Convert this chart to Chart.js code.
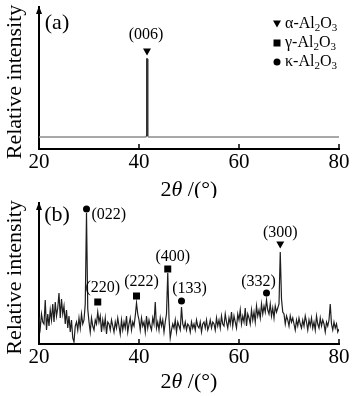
<!DOCTYPE html>
<html>
<head>
    <meta charset="utf-8">
    <title>XRD patterns</title>
    <script src="https://cdn.jsdelivr.net/npm/chart.js"></script>
    <style>
        html, body { margin: 0; padding: 0; background: #fff; }
        .panel { width: 352px; height: 198px; }
    </style>
</head>
<body>
    <div class="panel"><canvas id="chartA" width="352" height="198"></canvas></div>
    <div class="panel"><canvas id="chartB" width="352" height="198"></canvas></div>

    <script>
        // x axis
        const xTicks = [20, 40, 60, 80];

        // panel (a): flat baseline with one sharp alpha-Al2O3 peak
        const angleA = [20, 41.3, 41.45, 41.55, 41.65, 41.75, 41.9, 80];
        const intensityA = [12, 12, 13, 90, 90, 13, 12, 12];

        // panel (b): noisy pattern, sampled every 0.25 deg from 20 to 80
        const angleStartB = 20;
        const angleStepB = 0.25;
        const intensityB = [
            27, 16, 30, 22,   20, 44, 14, 30,   18, 34, 24, 40,   22, 42, 28, 36,   // 20-23
            51, 26, 45, 30,   38, 20, 34, 16,   28, 12, 24, 6,    2, 18, 22, 14,    // 24-27
            26, 16, 30, 20,   24, 40, 131, 35,  22, 12, 26, 18,   14, 24, 20, 32,   // 28-31
            22, 28, 12, 24,   16, 26, 10, 22,   20, 14, 24, 18,   12, 22, 16, 26,   // 32-35
            18, 10, 24, 14,   22, 16, 28, 12,   20, 26, 14, 22,   18, 28, 41, 30,   // 36-39
            24, 14, 26, 18,   22, 12, 28, 16,   24, 18, 14, 26,   20, 42, 16, 22,   // 40-43
            14, 26, 18, 24,   12, 22, 30, 71,   26, 6, 14, 20,    16, 24, 12, 22,   // 44-47
            18, 14, 37, 20,   16, 22, 14, 20,   18, 12, 22, 16,   20, 14, 24, 18,   // 48-51
            16, 22, 12, 20,   22, 16, 24, 14,   18, 24, 16, 22,   20, 14, 26, 18,   // 52-55
            24, 16, 28, 20,   18, 30, 22, 16,   26, 20, 32, 18,   28, 22, 16, 30,   // 56-59
            24, 34, 20, 28,   22, 36, 18, 30,   26, 20, 34, 24,   32, 22, 38, 28,   // 60-63
            34, 26, 40, 30,   38, 32, 44, 34,   30, 40, 28, 36,   26, 38, 32, 36,   // 64-67
            40, 92, 45, 32,   30, 20, 28, 24,   18, 28, 22, 26,   20, 14, 24, 18,   // 68-71
            26, 20, 16, 24,   18, 28, 22, 14,   24, 18, 26, 16,   22, 14, 28, 20,   // 72-75
            16, 26, 18, 24,   20, 12, 22, 18,   24, 40, 20, 14,   22, 16, 20, 12,   // 76-79
            15                                                                      // 80
        ];

        // peak assignments
        const phaseKeys = ['alpha', 'gamma', 'kappa'];
        const phaseNames = [['α-Al', '2', 'O', '3'], ['γ-Al', '2', 'O', '3'], ['κ-Al', '2', 'O', '3']];
        const peakAngleA = [41.6];
        const peakHklA = ['(006)'];
        const peakPhaseA = ['alpha'];
        const peakAngleB = [29.5, 31.75, 39.5, 45.75, 48.5, 65.5, 68.25];
        const peakHklB = ['(022)', '(220)', '(222)', '(400)', '(133)', '(332)', '(300)'];
        const peakPhaseB = ['kappa', 'gamma', 'gamma', 'gamma', 'kappa', 'kappa', 'alpha'];

        const SERIF = '"Liberation Serif", "Times New Roman", serif';

        function drawMarker(ctx, shape, x, y) {
            ctx.fillStyle = '#000';
            ctx.beginPath();
            if (shape === 'alpha') {
                ctx.moveTo(x - 4, y - 3.5);
                ctx.lineTo(x + 4, y - 3.5);
                ctx.lineTo(x, y + 3.5);
                ctx.closePath();
            } else if (shape === 'gamma') {
                ctx.rect(x - 3.5, y - 3.5, 7, 7);
            } else {
                ctx.arc(x, y, 3.5, 0, Math.PI * 2);
            }
            ctx.fill();
        }

        // alternating runs: normal, subscript, normal, subscript
        function drawFormula(ctx, parts, x, y, size) {
            let cx = x;
            parts.forEach((p, i) => {
                const sub = i % 2 === 1;
                ctx.font = (sub ? Math.round(size * 0.68) : size) + 'px ' + SERIF;
                ctx.fillText(p, cx, sub ? y + 4 : y);
                cx += ctx.measureText(p).width;
            });
        }

        function peakTop(angles, values, a) {
            let best = 0;
            angles.forEach((x, i) => {
                if (Math.abs(x - a) <= 0.3 && values[i] > best) best = values[i];
            });
            return best;
        }

        function decorations(panel) {
            return {
                id: 'decor' + panel.letter,
                afterDraw(chart) {
                    const ctx = chart.ctx;
                    const area = chart.chartArea;
                    const xs = chart.scales.x;
                    const ys = chart.scales.y;
                    ctx.save();
                    ctx.fillStyle = '#000';
                    ctx.strokeStyle = '#000';

                    // arrow head on y axis
                    ctx.beginPath();
                    ctx.moveTo(area.left - 3, area.top + 7);
                    ctx.lineTo(area.left, area.top - 1);
                    ctx.lineTo(area.left + 3, area.top + 7);
                    ctx.closePath();
                    ctx.fill();

                    // inward tick marks
                    ctx.lineWidth = 1.5;
                    xTicks.slice(1).forEach(v => {
                        const px = xs.getPixelForValue(v);
                        ctx.beginPath();
                        ctx.moveTo(px, area.bottom);
                        ctx.lineTo(px, area.bottom - 5);
                        ctx.stroke();
                    });

                    // x title 2θ /(°)
                    const size = 22;
                    const runs = [['2', ''], ['θ', 'italic '], [' /(°)', '']];
                    let total = 0;
                    runs.forEach(r => { ctx.font = r[1] + size + 'px ' + SERIF; total += ctx.measureText(r[0]).width; });
                    let tx = (area.left + area.right) / 2 - total / 2;
                    ctx.textBaseline = 'middle';
                    ctx.textAlign = 'left';
                    runs.forEach(r => {
                        ctx.font = r[1] + size + 'px ' + SERIF;
                        ctx.fillText(r[0], tx, area.bottom + panel.xTitleOffset);
                        tx += ctx.measureText(r[0]).width;
                    });

                    // y title
                    ctx.save();
                    ctx.translate(15, (area.top + area.bottom) / 2 + 4);
                    ctx.rotate(-Math.PI / 2);
                    ctx.textAlign = 'center';
                    ctx.font = size + 'px ' + SERIF;
                    ctx.fillText('Relative intensity', 0, 0);
                    ctx.restore();

                    // panel letter
                    ctx.textAlign = 'center';
                    ctx.font = '22px ' + SERIF;
                    ctx.fillText('(' + panel.letter + ')', area.left + 18, area.top + panel.letterDy);

                    // peak markers and hkl labels
                    ctx.font = '16px ' + SERIF;
                    panel.angles.forEach((a, i) => {
                        const px = xs.getPixelForValue(a);
                        const py = ys.getPixelForValue(peakTop(panel.dataX, panel.dataY, a)) - panel.gap[i];
                        drawMarker(ctx, panel.phases[i], px, py);
                        ctx.textAlign = panel.align[i];
                        ctx.fillText(panel.hkl[i], px + panel.dx[i], py + panel.dy[i]);
                    });

                    // legend
                    if (panel.legend) {
                        phaseKeys.forEach((k, i) => {
                            const ly = area.top + 17 + i * 19;
                            drawMarker(ctx, k, area.right - 62, ly);
                            ctx.textAlign = 'left';
                            drawFormula(ctx, phaseNames[i], area.right - 54, ly, 16);
                        });
                    }
                    ctx.restore();
                }
            };
        }

        function makeOptions(yMax, padTop, xHeight) {
            return {
                responsive: false,
                animation: false,
                devicePixelRatio: 1,
                layout: { padding: { left: 0, right: 13, top: padTop, bottom: 0 } },
                plugins: { legend: { display: false }, tooltip: { enabled: false } },
                scales: {
                    x: {
                        type: 'linear',
                        min: 20,
                        max: 80,
                        afterBuildTicks: s => { s.ticks = xTicks.map(v => ({ value: v })); },
                        afterFit: s => { s.height = xHeight; },
                        grid: { display: false, drawTicks: false },
                        border: { display: true, color: '#000', width: 2 },
                        ticks: { color: '#000', padding: 1, maxRotation: 0, font: { family: SERIF, size: 21 } }
                    },
                    y: {
                        min: 0,
                        max: yMax,
                        afterFit: s => { s.width = 39; },
                        grid: { display: false, drawTicks: false },
                        border: { display: true, color: '#000', width: 2 },
                        ticks: { display: false }
                    }
                }
            };
        }

        const angleB = intensityB.map((_, i) => angleStartB + i * angleStepB);

        new Chart(document.getElementById('chartA'), {
            type: 'line',
            data: {
                datasets: [{
                    data: angleA.map((x, i) => ({ x: x, y: intensityA[i] })),
                    borderWidth: 1.5,
                    borderColor: '#8c8c8c',
                    segment: { borderColor: c => (c.p0.parsed.y > 20 || c.p1.parsed.y > 20) ? '#333' : '#8c8c8c' },
                    pointRadius: 0,
                    tension: 0
                }]
            },
            options: makeOptions(142, 7, 49),
            plugins: [decorations({
                letter: 'a', letterDy: 16, xTitleOffset: 41, legend: true,
                angles: peakAngleA, hkl: peakHklA, phases: peakPhaseA,
                dataX: angleA, dataY: intensityA,
                gap: [7], dx: [-1], dy: [-17], align: ['center']
            })]
        });

        new Chart(document.getElementById('chartB'), {
            type: 'line',
            data: {
                datasets: [{
                    data: angleB.map((x, i) => ({ x: x, y: intensityB[i] })),
                    borderWidth: 1.2,
                    borderColor: '#1e1e1e',
                    pointRadius: 0,
                    tension: 0
                }]
            },
            options: makeOptions(141, 5, 52),
            plugins: [decorations({
                letter: 'b', letterDy: 12, xTitleOffset: 38, legend: false,
                angles: peakAngleB, hkl: peakHklB, phases: peakPhaseB,
                dataX: angleB, dataY: intensityB,
                gap: [4, 10, 7, 4, 6, 7, 7],
                dx: [5, 5, 5, 5, 8, -8, 0],
                dy: [6, -14, -14, -12, -12, -11, -12],
                align: ['left', 'center', 'center', 'center', 'center', 'center', 'center']
            })]
        });
    </script>
</body>
</html>
